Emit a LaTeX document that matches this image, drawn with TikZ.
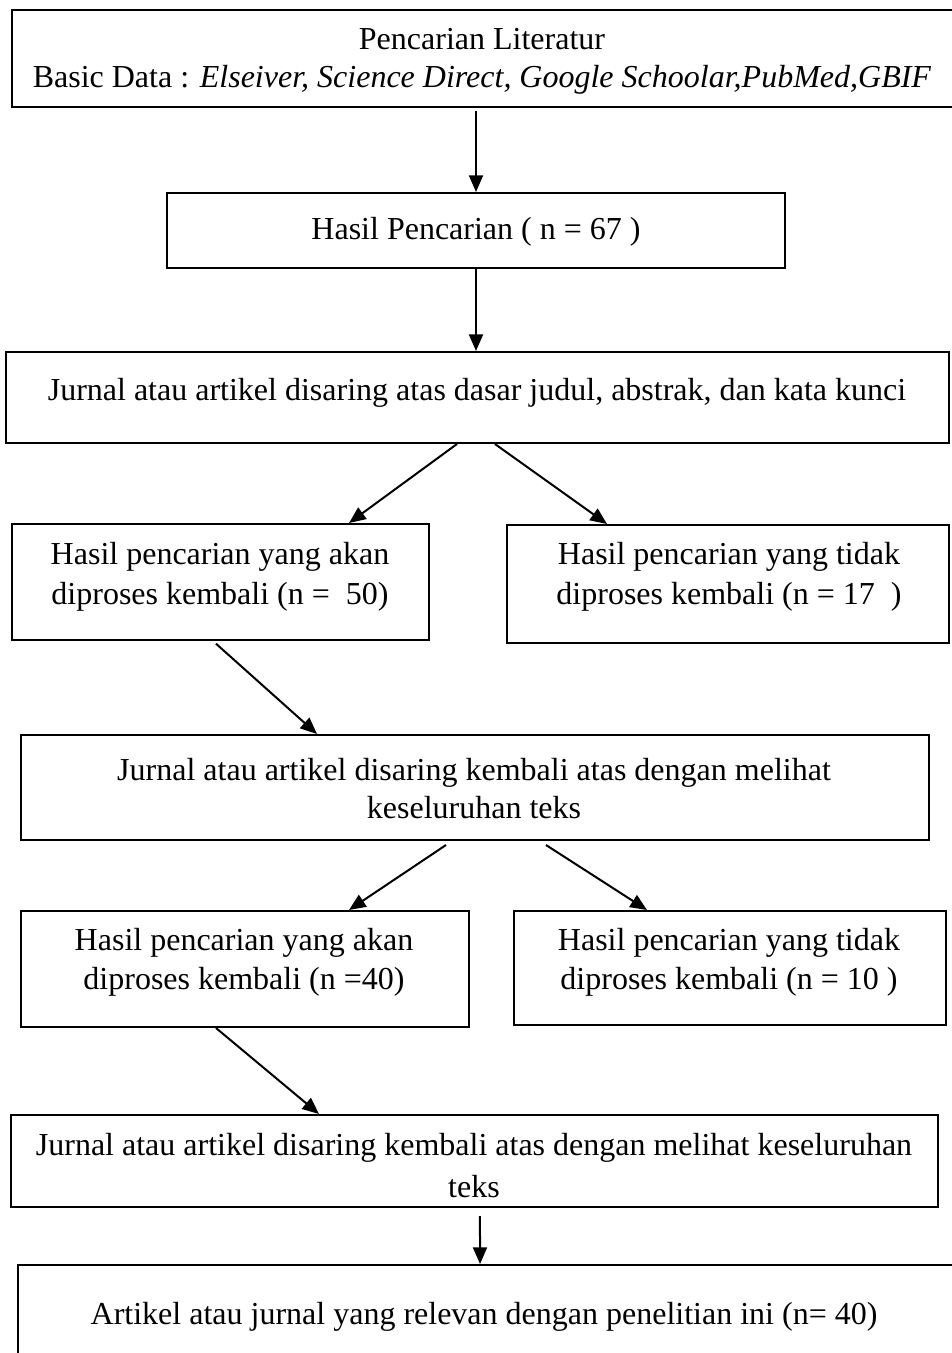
\documentclass[tikz,border=0pt]{standalone}
\usepackage{fontspec}
\setmainfont{Liberation Serif}
\usetikzlibrary{arrows.meta,fit}
\begin{document}
\begin{tikzpicture}[x=0.75pt,y=-0.75pt,
  box/.style={draw,line width=1.5pt,inner sep=0pt},
  txt/.style={font=\fontsize{24}{29.5}\selectfont,align=center,inner sep=0pt},
  arr/.style={-{Triangle[length=12.5pt,width=10.5pt]},line width=1.5pt}]
\useasboundingbox (0,0) rectangle (952,1353);
\clip (0,0) rectangle (952,1353);
% boxes
\node[box,fit={(12,10)(965,107)}] (b1) {};
\node[box,fit={(167,193)(785,268)}] (b2) {};
\node[box,fit={(6,352)(949,443)}] (b3) {};
\node[box,fit={(12,524)(429,640)}] (b4) {};
\node[box,fit={(507,525)(949,643)}] (b5) {};
\node[box,fit={(21,735)(929,840)}] (b6) {};
\node[box,fit={(21,911)(469,1027)}] (b7) {};
\node[box,fit={(514,911)(946,1025)}] (b8) {};
\node[box,fit={(11,1115)(938,1207)}] (b9) {};
\node[box,fit={(18,1265)(965,1380)}] (b10) {};
% texts
\node[txt,font=\fontsize{24}{28.5}\selectfont] (t1) at (482,61) {Pencarian Literatur\\Basic Data : \textit{Elseiver, Science Direct, Google Schoolar,PubMed,GBIF}};
\node[txt] (t2) at (476,232) {Hasil Pencarian ( n = 67 )};
\node[txt] (t3) at (477,393) {Jurnal atau artikel disaring atas dasar judul, abstrak, dan kata kunci};
\node[txt,font=\fontsize{24}{30}\selectfont] (t4) at (220,577) {Hasil pencarian yang akan\\diproses kembali (n = \ 50)};
\node[txt,font=\fontsize{24}{30}\selectfont] (t5) at (729,577) {Hasil pencarian yang tidak\\diproses kembali (n = 17 \ )};
\node[txt,font=\fontsize{24}{28.5}\selectfont] (t6) at (474,789) {Jurnal atau artikel disaring kembali atas dengan melihat\\keseluruhan teks};
\node[txt] (t7) at (244,962) {Hasil pencarian yang akan\\diproses kembali (n =40)};
\node[txt] (t8) at (729,962) {Hasil pencarian yang tidak\\diproses kembali (n = 10 )};
\node[txt,font=\fontsize{24}{31.5}\selectfont] (t9) at (474,1166) {Jurnal atau artikel disaring kembali atas dengan melihat keseluruhan\\teks};
\node[txt] (t10) at (484,1317) {Artikel atau jurnal yang relevan dengan penelitian ini (n= 40)};
% arrows
\draw[arr] ([yshift=-2pt]b2.north |- b1.south) -- (b2.north);
\draw[arr] (b2.south) -- (b2.south |- b3.north);
\draw[arr] ([xshift=-15.4pt]b3.south) -- ([xshift=96.4pt]b4.north);
\draw[arr] ([xshift=13.1pt]b3.south) -- ([xshift=-90.75pt]b5.north);
\draw[arr] ([xshift=-3.4pt,yshift=-2pt]b4.south) -- ([xshift=-118.5pt]b6.north);
\draw[arr] ([xshift=-21.75pt,yshift=-3pt]b6.south) -- ([xshift=78pt]b7.north);
\draw[arr] ([xshift=53.25pt,yshift=-3pt]b6.south) -- ([xshift=-62.25pt]b8.north);
\draw[arr] ([xshift=-21.75pt]b7.south) -- ([xshift=-116.6pt]b9.north);
\draw[arr] ([xshift=4.1pt,yshift=-6pt]b9.south) -- ([xshift=-8.6pt]b10.north);
\end{tikzpicture}
\end{document}
